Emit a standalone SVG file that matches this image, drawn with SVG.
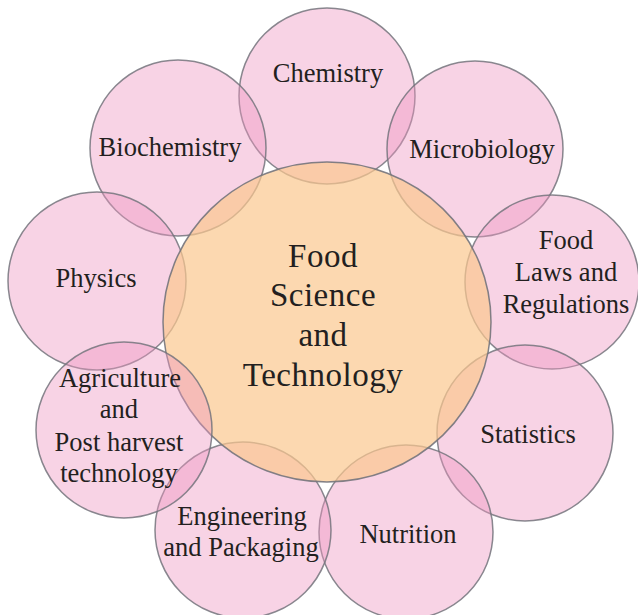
<svg xmlns="http://www.w3.org/2000/svg" width="638" height="615" viewBox="0 0 638 615">
<style>
.outer{fill:#EE96C1;fill-opacity:0.42;stroke:#74747c;stroke-width:1.5;stroke-opacity:0.85}
.core{fill:#FBC78E;fill-opacity:0.7;stroke:#74747c;stroke-width:1.5;stroke-opacity:0.9}
text{font-family:"Liberation Serif","Times New Roman",serif;fill:#231F20;text-anchor:middle}
.t{font-size:26.5px}
.c{font-size:33px;letter-spacing:0.5px}
</style>
<rect width="638" height="615" fill="#ffffff"/>
<g id="chemistry"><circle class="outer" cx="327" cy="96" r="88"/><text class="t" x="328" y="82">Chemistry</text></g>
<g id="biochemistry"><circle class="outer" cx="178" cy="148" r="88"/><text class="t" x="170" y="156">Biochemistry</text></g>
<g id="microbiology"><circle class="outer" cx="475" cy="149" r="88"/><text class="t" x="482" y="158">Microbiology</text></g>
<g id="food-laws"><circle class="outer" cx="552" cy="282" r="87"/><text class="t" x="566" y="249">Food</text><text class="t" x="566" y="281">Laws and</text><text class="t" x="566" y="313">Regulations</text></g>
<g id="statistics"><circle class="outer" cx="525" cy="433" r="88"/><text class="t" x="528" y="443">Statistics</text></g>
<g id="nutrition"><circle class="outer" cx="406" cy="532" r="87"/><text class="t" x="408" y="543">Nutrition</text></g>
<g id="engineering"><circle class="outer" cx="243" cy="530" r="88"/><text class="t" x="242" y="525">Engineering</text><text class="t" x="241" y="556">and Packaging</text></g>
<g id="physics"><circle class="outer" cx="97" cy="281" r="89"/><text class="t" x="96" y="287">Physics</text></g>
<g id="food-science"><ellipse class="core" cx="327" cy="322" rx="164" ry="160"/><text class="c" x="323" y="267">Food</text><text class="c" x="323" y="306">Science</text><text class="c" x="323" y="346">and</text><text class="c" x="323" y="386">Technology</text></g>
<g id="agriculture"><circle class="outer" cx="124" cy="430" r="88"/><text class="t" x="120" y="387">Agriculture</text><text class="t" x="119" y="418">and</text><text class="t" x="119" y="451">Post harvest</text><text class="t" x="119" y="482">technology</text></g>
<g id="connectors"></g>
</svg>
